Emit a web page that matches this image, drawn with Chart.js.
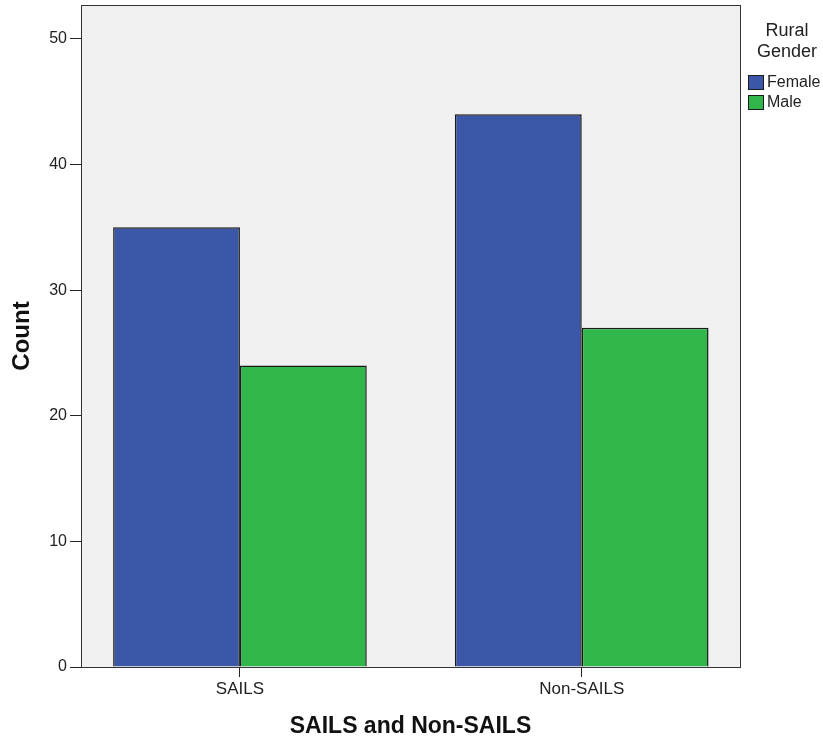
<!DOCTYPE html>
<html lang="en">

<head>
    <meta charset="UTF-8">
    <title>SAILS and Non-SAILS</title>
    <script src="https://cdn.jsdelivr.net/npm/chart.js"></script>
    <style>
        body {
            margin: 0;
            background: #ffffff;
        }
    </style>
</head>

<body>
    <canvas id="gender-chart" width="823" height="740"></canvas>

    <script>
        // values
        const categories = ['SAILS', 'Non-SAILS'];
        const seriesNames = ['Female', 'Male'];
        const femaleCounts = [35, 44];
        const maleCounts = [24, 27];
        const yTicks = [0, 10, 20, 30, 40, 50];
        const legendTitle = ['Rural', 'Gender'];

        const colors = ['#3c57a8', '#30b64b'];
        const fontFamily = '"Liberation Sans", Arial, sans-serif';

        function toPoints(values) {
            return values.map((v, i) => ({ x: i, y: v }));
        }

        // grey plot area with a dark frame, like the SPSS output
        const plotFrame = {
            id: 'plotFrame',
            beforeDraw(chart) {
                const a = chart.chartArea;
                const ctx = chart.ctx;
                ctx.save();
                ctx.fillStyle = '#f0f0f0';
                ctx.fillRect(a.left, a.top, a.right - a.left, a.bottom - a.top);
                ctx.restore();
            },
            afterDraw(chart) {
                const a = chart.chartArea;
                const ctx = chart.ctx;
                ctx.save();
                ctx.strokeStyle = '#333';
                ctx.lineWidth = 1;
                ctx.strokeRect(Math.round(a.left) + 0.5, Math.round(a.top) + 0.5,
                    Math.round(a.right - a.left), Math.round(a.bottom - a.top));
                ctx.restore();
            }
        };

        // legend at the right with a two line title
        const sideLegend = {
            id: 'sideLegend',
            afterDraw(chart) {
                const ctx = chart.ctx;
                ctx.save();
                ctx.fillStyle = '#222';
                ctx.font = '18px ' + fontFamily;
                ctx.textAlign = 'center';
                ctx.textBaseline = 'alphabetic';
                legendTitle.forEach((t, i) => ctx.fillText(t, 787, 36 + i * 21));

                ctx.font = '16px ' + fontFamily;
                ctx.textAlign = 'left';
                ctx.textBaseline = 'middle';
                chart.data.datasets.forEach((ds, i) => {
                    const y = 75 + i * 20;
                    ctx.fillStyle = ds.backgroundColor;
                    ctx.fillRect(748, y, 16, 15);
                    ctx.strokeStyle = '#1a1a1a';
                    ctx.lineWidth = 1;
                    ctx.strokeRect(748.5, y + 0.5, 15, 14);
                    ctx.fillStyle = '#222';
                    ctx.fillText(ds.label, 767, y + 8);
                });
                ctx.restore();
            }
        };

        const ctx = document.getElementById('gender-chart').getContext('2d');
        const genderChart = new Chart(ctx, {
            type: 'bar',
            data: {
                datasets: [{
                    label: seriesNames[0],
                    data: toPoints(femaleCounts),
                    backgroundColor: colors[0],
                    borderColor: '#1a1a1a',
                    borderWidth: 1.5
                }, {
                    label: seriesNames[1],
                    data: toPoints(maleCounts),
                    backgroundColor: colors[1],
                    borderColor: '#1a1a1a',
                    borderWidth: 1.5
                }]
            },
            options: {
                responsive: false,
                animation: false,
                layout: {
                    padding: { left: 0, top: 5, right: 83, bottom: 0 }
                },
                categoryPercentage: 0.742,
                barPercentage: 1,
                plugins: {
                    legend: { display: false },
                    tooltip: { enabled: false }
                },
                scales: {
                    x: {
                        type: 'linear',
                        offset: false,
                        min: -0.465,
                        max: 1.463,
                        grid: {
                            offset: false,
                            drawOnChartArea: false,
                            tickLength: 10,
                            color: '#222'
                        },
                        border: { display: false },
                        ticks: {
                            padding: 2,
                            color: '#222',
                            font: { family: fontFamily, size: 17 },
                            callback: (v) => categories[v]
                        },
                        afterBuildTicks: (scale) => {
                            scale.ticks = categories.map((c, i) => ({ value: i }));
                        },
                        afterFit: (scale) => {
                            scale.height = 73;
                            scale.paddingLeft = 0;
                            scale.paddingRight = 0;
                        },
                        title: {
                            display: true,
                            text: 'SAILS and Non-SAILS',
                            color: '#111',
                            font: { family: fontFamily, size: 23, weight: 'bold', lineHeight: 1 },
                            padding: { top: 0, bottom: 2 }
                        }
                    },
                    y: {
                        min: 0,
                        max: 52.7,
                        grid: {
                            drawOnChartArea: false,
                            tickLength: 11,
                            color: '#222'
                        },
                        border: { display: false },
                        ticks: {
                            padding: 3,
                            color: '#222',
                            font: { family: fontFamily, size: 16 }
                        },
                        afterBuildTicks: (scale) => {
                            scale.ticks = yTicks.map(v => ({ value: v }));
                        },
                        afterFit: (scale) => {
                            scale.width = 81;
                            scale.paddingTop = 0;
                            scale.paddingBottom = 0;
                        },
                        title: {
                            display: true,
                            text: 'Count',
                            color: '#111',
                            font: { family: fontFamily, size: 24, weight: 'bold', lineHeight: 1 },
                            padding: { top: 10, bottom: 0 }
                        }
                    }
                }
            },
            plugins: [plotFrame, sideLegend]
        });
    </script>
</body>

</html>
